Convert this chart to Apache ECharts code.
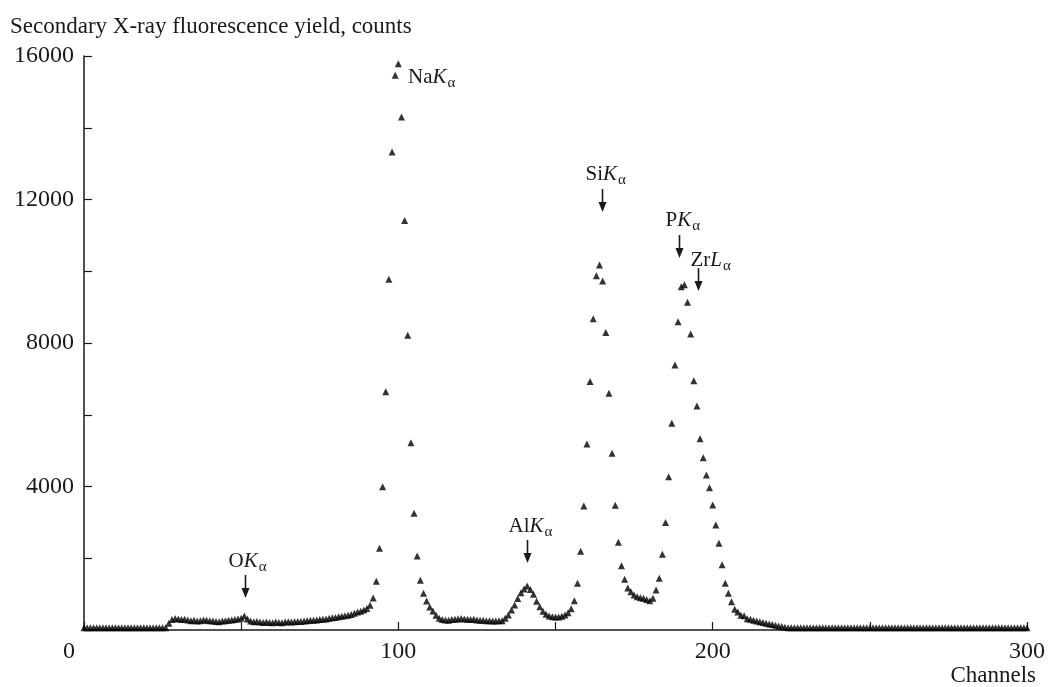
<!DOCTYPE html>
<html>
<head>
<meta charset="utf-8">
<title>Secondary X-ray fluorescence spectrum</title>
<script src="https://cdn.jsdelivr.net/npm/echarts@6/dist/echarts.min.js"></script>
<style>
  html, body { margin: 0; padding: 0; background: #fff; }
  #main { width: 1050px; height: 687px; }
</style>
</head>
<body>
<div id="main"></div>
<script>
// channel numbers, one point per channel
const channels = [];
for (let c = 0; c <= 300; c++) channels.push(c);

// counts, 10 channels per row
const counts = [
  60, 60, 60, 60, 60, 60, 60, 60, 60, 60,
  60, 60, 60, 60, 60, 60, 60, 60, 60, 60,
  60, 60, 60, 60, 60, 60, 60, 190, 290, 320,
  310, 290, 300, 280, 260, 270, 250, 260, 280, 270,
  260, 250, 240, 230, 250, 260, 270, 280, 290, 310,
  330, 390, 310, 250, 230, 240, 220, 210, 220, 210,
  200, 220, 210, 200, 220, 230, 220, 230, 240, 240,
  250, 260, 270, 270, 280, 290, 300, 310, 330, 340,
  350, 370, 380, 400, 410, 430, 470, 500, 520, 560,
  600, 690, 890, 1360, 2280, 3994, 6641, 9774, 13322, 15460,
  15783, 14297, 11418, 8213, 5220, 3252, 2062, 1385, 1023, 808,
  641, 530, 410, 326, 290, 280, 270, 290, 300, 310,
  320, 310, 300, 290, 300, 280, 270, 270, 260, 260,
  250, 250, 260, 260, 330, 420, 560, 700, 880, 1040,
  1140, 1226, 1130, 1000, 800, 650, 520, 440, 390, 370,
  360, 360, 380, 420, 480, 590, 817, 1301, 2193, 3456,
  5184, 6930, 8677, 9875, 10173, 9727, 8296, 6597, 4925, 3475,
  2444, 1792, 1413, 1170, 1068, 975, 929, 900, 883, 850,
  817, 883, 1115, 1441, 2110, 3000, 4273, 5760, 7386, 8593,
  9568, 9624, 9133, 8250, 6948, 6243, 5332, 4803, 4320, 3966,
  3484, 2926, 2416, 1820, 1301, 1022, 789, 577, 502, 410,
  400, 315, 300, 270, 250, 230, 210, 190, 170, 150,
  130, 110, 95, 80, 60, 60, 60, 60, 60, 60,
  60, 60, 60, 60, 60, 60, 60, 60, 60, 60,
  60, 60, 60, 60, 60, 60, 60, 60, 60, 60,
  60, 60, 60, 60, 60, 60, 60, 60, 60, 60,
  60, 60, 60, 60, 60, 60, 60, 60, 60, 60,
  60, 60, 60, 60, 60, 60, 60, 60, 60, 60,
  60, 60, 60, 60, 60, 60, 60, 60, 60, 60,
  60, 60, 60, 60, 60, 60, 60, 60, 60, 60,
  60
];

const xLabels = [0, 100, 200, 300];
const yLabels = [4000, 8000, 12000, 16000];

// line annotations: element, line, channel of arrow, counts at arrow tip (Na: text centre)
const annNames = ['O', 'Na', 'Al', 'Si', 'P', 'Zr'];
const annLines = ['K', 'K', 'K', 'K', 'K', 'L'];
const annCh = [51.2, 103.1, 140.9, 164.9, 189.4, 195.2];
const annVal = [892, 15400, 1867, 11650, 10368, 9448];
const annArrow = [true, false, true, true, true, true];

const FONT = '"Liberation Serif", "DejaVu Serif", serif';
const INK = '#1a1a1a';

const chart = echarts.init(document.getElementById('main'), null, { renderer: 'canvas' });

const option = {
  animation: false,
  backgroundColor: '#fff',
  grid: { left: 84, right: 23, top: 56, bottom: 57, containLabel: false },
  xAxis: {
    type: 'value',
    min: 0,
    max: 300,
    interval: 50,
    axisLine: { lineStyle: { color: INK, width: 1.5 } },
    axisTick: { inside: true, length: 8, lineStyle: { color: INK, width: 1.2 } },
    splitLine: { show: false },
    axisLabel: {
      margin: 10,
      color: INK,
      fontFamily: FONT,
      fontSize: 24,
      formatter: v => v === 0 ? '{z|0}' : (xLabels.includes(v) ? String(v) : ''),
      rich: { z: { fontFamily: FONT, fontSize: 24, color: INK, padding: [0, 30, 0, 0] } }
    }
  },
  yAxis: {
    type: 'value',
    min: 0,
    max: 16000,
    interval: 2000,
    axisLine: { show: true, lineStyle: { color: INK, width: 1.5 } },
    axisTick: { show: true, inside: true, length: 8, lineStyle: { color: INK, width: 1.2 } },
    splitLine: { show: false },
    axisLabel: {
      margin: 10,
      color: INK,
      fontFamily: FONT,
      fontSize: 24,
      formatter: v => yLabels.includes(v) ? String(v) : ''
    }
  },
  series: [{
    type: 'scatter',
    symbol: 'triangle',
    symbolSize: 7,
    clip: false,
    itemStyle: { color: '#000' },
    data: channels.map((c, i) => [c, counts[i]]),
    z: 3
  }]
};
chart.setOption(option);

// text offsets (px) of each annotation relative to its arrow
const textDx = { O: -17, Na: 0, Al: -19, Si: -17, P: -14, Zr: -8 };
const textDy = { O: -14, Na: 0, Al: -14, Si: -15, P: -15, Zr: -8 };
const ARROW_LEN = 23;

const graphics = [];
annNames.forEach((name, i) => {
  const p = chart.convertToPixel({ gridIndex: 0 }, [annCh[i], annVal[i]]);
  let tx, ty;
  if (annArrow[i]) {
    const x = Math.round(p[0]) + 0.5;
    const tip = p[1];
    const top = tip - ARROW_LEN;
    graphics.push({
      type: 'line',
      shape: { x1: x, y1: top, x2: x, y2: tip - 8 },
      style: { stroke: INK, lineWidth: 1.6 },
      z: 10
    });
    graphics.push({
      type: 'polygon',
      shape: { points: [[x - 4, tip - 10], [x + 4, tip - 10], [x, tip]] },
      style: { fill: INK },
      z: 10
    });
    tx = x + textDx[name];
    ty = top + textDy[name];
  } else {
    tx = p[0];
    ty = p[1];
  }
  graphics.push({
    type: 'text',
    x: tx,
    y: ty,
    z: 10,
    style: {
      text: '{n|' + name + '}{k|' + annLines[i] + '}{s|α}',
      align: 'left',
      verticalAlign: 'middle',
      rich: {
        n: { fontFamily: FONT, fontSize: 21, fill: INK },
        k: { fontFamily: FONT, fontSize: 21, fontStyle: 'italic', fill: INK },
        s: { fontFamily: FONT, fontSize: 15, fill: INK, padding: [12, 0, 0, 1] }
      }
    }
  });
});

graphics.push({
  type: 'text',
  left: 10,
  top: 15,
  style: { text: 'Secondary X-ray fluorescence yield, counts', font: '23px ' + FONT, fill: INK }
});
graphics.push({
  type: 'text',
  right: 14,
  top: 664,
  style: { text: 'Channels', font: '23px ' + FONT, fill: INK }
});

chart.setOption({ graphic: graphics });
</script>
</body>
</html>
